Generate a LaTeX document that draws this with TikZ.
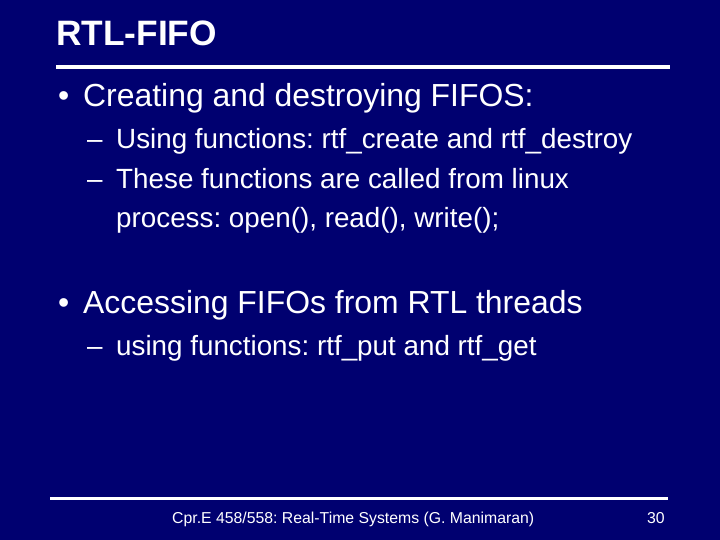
\documentclass[tikz,border=0pt]{standalone}
\usepackage{fontspec}
\setmainfont{Liberation Sans}
\frenchspacing
\definecolor{bg}{HTML}{000070}
\begin{document}
\begin{tikzpicture}[x=1pt,y=-1pt,
  txt/.style={anchor=base west,inner sep=0pt,text=white},
  lvlone/.style={txt,font=\fontsize{31.9}{36}\selectfont},
  lvltwo/.style={txt,font=\fontsize{27.8}{32}\selectfont},
  foot/.style={txt,font=\fontsize{15.8}{19}\selectfont}]
\fill[bg] (0,0) rectangle (720,540);
\useasboundingbox (0,0) rectangle (720,540);
\node[txt,font=\fontsize{35.3}{40}\bfseries\selectfont] (title) at (56,46) {RTL-FIFO};
\draw[white,line width=4pt] (56,67) coordinate (l1) -- (670,67) coordinate (l2);
\node[lvlone] (b1) at (58,107) {•};
\node[lvlone] (t1) at (83,107) {Creating and destroying FIFOS:};
\node[lvltwo] (d1) at (87,149) {–};
\node[lvltwo] (s1) at (116,149) {Using functions: rtf\_create and rtf\_destroy};
\node[lvltwo] (d2) at (87,189) {–};
\node[lvltwo] (s2) at (116,189) {These functions are called from linux};
\node[lvltwo] (s3) at (116,227) {process: open(), read(), write();};
\node[lvlone] (b2) at (58,313) {•};
\node[lvlone] (t2) at (83,313) {Accessing FIFOs from RTL threads};
\node[lvltwo] (d3) at (87,355) {–};
\node[lvltwo] (s4) at (116,355) {using functions: rtf\_put and rtf\_get};
\draw[white,line width=3pt] (50,498) coordinate (f1) -- (668,498) coordinate (f2);
\node[foot] (ft) at (172,523) {Cpr.E 458/558: Real-Time Systems (G. Manimaran)};
\node[foot] (pg) at (647,523) {30};
\end{tikzpicture}
\end{document}
